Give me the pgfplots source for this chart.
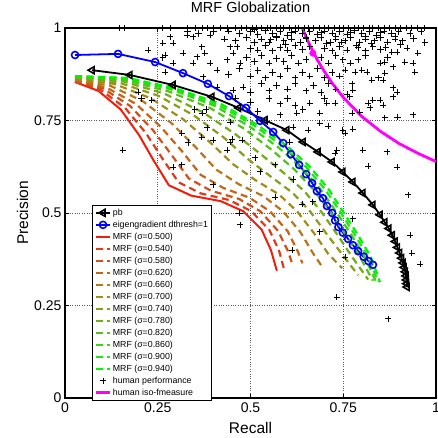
\documentclass[border=0pt]{standalone}
\usepackage{fontspec}
\setmainfont{Liberation Sans}
\usepackage{pgfplots}
\pgfplotsset{compat=1.18}
\definecolor{c50}{RGB}{240,30,10}
\definecolor{c54}{RGB}{222,58,25}
\definecolor{c58}{RGB}{208,80,25}
\definecolor{c62}{RGB}{196,102,25}
\definecolor{c66}{RGB}{180,120,25}
\definecolor{c70}{RGB}{160,140,25}
\definecolor{c74}{RGB}{140,155,25}
\definecolor{c78}{RGB}{115,172,25}
\definecolor{c82}{RGB}{85,192,25}
\definecolor{c86}{RGB}{55,212,20}
\definecolor{c90}{RGB}{30,230,20}
\definecolor{c94}{RGB}{0,245,0}
\definecolor{mag}{RGB}{255,0,255}
\definecolor{bl}{RGB}{0,0,255}
\begin{document}
\begin{tikzpicture}
\begin{axis}[
  name=ax, scale only axis, width=371pt, height=370pt,
  xmin=0, xmax=1, ymin=0, ymax=1, clip=false,
  xtick={0,0.25,0.5,0.75,1}, ytick={0,0.25,0.5,0.75,1},
  xticklabels={0,0.25,0.5,0.75,1}, yticklabels={0,0.25,0.5,0.75,1},
  /pgf/number format/assume math mode=true,
  tick align=inside, major tick length=4pt,
  tick style={black, line width=0.6pt},
  grid=major, major grid style={dotted, black!65, line width=0.6pt},
  axis line style={line width=1.2pt},
  ticklabel style={font=\fontsize{14}{16}\selectfont},
  xticklabel style={yshift=-1.5pt},
  title={MRF Globalization},
  title style={font=\fontsize{14.5}{17}\selectfont, at={(axis description cs:0.5,1)}, anchor=base, yshift=9.7pt, inner sep=0pt},
  xlabel={Recall},
  xlabel style={font=\fontsize{15.5}{18}\selectfont, at={(axis description cs:0.5,0)}, anchor=base, yshift=-35pt, inner sep=0pt},
  ylabel={Precision},
  ylabel style={font=\fontsize{15.5}{18}\selectfont, at={(axis description cs:-0.0997,0.5)}, anchor=base, inner sep=0pt},
  legend image code/.code={\draw[mark repeat=2,mark phase=2,#1] plot coordinates {(0pt,0pt) (7pt,0pt) (14pt,0pt)};},
  legend cell align=left,
  legend style={at={(axis description cs:0.073,0.522)}, anchor=north west, draw=black, line width=1pt, fill=white,
    font=\fontsize{8.8}{10}\selectfont, inner xsep=2pt, inner ysep=1.5pt, row sep=0pt,
    nodes={inner ysep=1.75pt, inner xsep=1.5pt, text height=6.4pt, text depth=2.1pt}},
]
% pb
\addplot[black, line width=1.8pt, mark=triangle, mark size=4pt, mark options={rotate=90, solid, line width=1.6pt}] coordinates {
(0.073,0.886)(0.175,0.873)(0.291,0.846)(0.396,0.814)(0.468,0.784)(0.539,0.751)(0.598,0.724)(0.642,0.692)(0.682,0.665)(0.720,0.638)(0.749,0.611)(0.776,0.584)(0.803,0.554)(0.830,0.522)(0.849,0.495)(0.862,0.475)(0.873,0.458)(0.882,0.440)(0.890,0.423)(0.896,0.407)(0.902,0.392)(0.907,0.378)(0.911,0.365)(0.914,0.353)(0.917,0.341)(0.919,0.330)(0.920,0.319)(0.921,0.309)(0.922,0.300)};
\addlegendentry{pb}
% eigengradient
\addplot[bl, line width=1.8pt, mark=o, mark size=3.5pt, mark options={solid, line width=1.6pt}] coordinates {
(0.027,0.927)(0.143,0.930)(0.243,0.908)(0.318,0.878)(0.385,0.849)(0.442,0.816)(0.488,0.784)(0.526,0.749)(0.561,0.719)(0.588,0.689)(0.609,0.659)(0.631,0.630)(0.650,0.605)(0.666,0.581)(0.679,0.559)(0.695,0.540)(0.706,0.519)(0.720,0.500)(0.728,0.480)(0.737,0.462)(0.749,0.447)(0.763,0.430)(0.776,0.413)(0.790,0.397)(0.805,0.382)(0.818,0.370)(0.830,0.360)};
\addlegendentry{eigengradient dthresh=1}
% MRF curves
\addplot[c50, line width=2pt] coordinates {
(0.027,0.854)(0.09,0.830)(0.15,0.780)(0.20,0.710)(0.24,0.640)(0.28,0.575)(0.34,0.547)(0.42,0.532)(0.48,0.505)(0.53,0.455)(0.555,0.400)(0.571,0.344)};
\addlegendentry{MRF (σ=0.500)}
\addplot[c54, line width=2.2pt, dash pattern=on 7pt off 4.5pt] coordinates {
(0.027,0.855)(0.096,0.833)(0.162,0.784)(0.218,0.716)(0.262,0.648)(0.306,0.583)(0.366,0.553)(0.443,0.535)(0.502,0.505)(0.551,0.454)(0.577,0.398)(0.590,0.350)};
\addlegendentry{MRF (σ=0.540)}
\addplot[c58, line width=2.2pt, dash pattern=on 7pt off 4.5pt] coordinates {
(0.027,0.857)(0.104,0.836)(0.176,0.789)(0.237,0.724)(0.288,0.656)(0.334,0.593)(0.394,0.560)(0.469,0.538)(0.526,0.505)(0.574,0.452)(0.601,0.397)(0.614,0.358)};
\addlegendentry{MRF (σ=0.580)}
\addplot[c62, line width=2.2pt, dash pattern=on 7pt off 4.5pt] coordinates {
(0.027,0.858)(0.112,0.839)(0.191,0.795)(0.259,0.732)(0.316,0.666)(0.366,0.603)(0.426,0.568)(0.498,0.541)(0.553,0.504)(0.600,0.451)(0.628,0.395)(0.640,0.364)};
\addlegendentry{MRF (σ=0.620)}
\addplot[c66, line width=2.2pt, dash pattern=on 7pt off 4.5pt] coordinates {
(0.027,0.860)(0.122,0.844)(0.210,0.802)(0.288,0.742)(0.352,0.678)(0.408,0.617)(0.468,0.578)(0.536,0.545)(0.588,0.504)(0.634,0.449)(0.668,0.392)(0.693,0.355)};
\addlegendentry{MRF (σ=0.660)}
\addplot[c70, line width=2.2pt, dash pattern=on 7pt off 4.5pt] coordinates {
(0.027,0.863)(0.133,0.849)(0.231,0.810)(0.319,0.753)(0.391,0.691)(0.453,0.632)(0.513,0.589)(0.577,0.550)(0.626,0.504)(0.670,0.447)(0.710,0.389)(0.747,0.351)};
\addlegendentry{MRF (σ=0.700)}
\addplot[c74, line width=2.2pt, dash pattern=on 7pt off 4.5pt] coordinates {
(0.027,0.865)(0.144,0.853)(0.251,0.817)(0.347,0.764)(0.428,0.704)(0.494,0.645)(0.554,0.599)(0.614,0.554)(0.661,0.504)(0.704,0.445)(0.748,0.387)(0.790,0.332)};
\addlegendentry{MRF (σ=0.740)}
\addplot[c78, line width=2.2pt, dash pattern=on 7pt off 4.5pt] coordinates {
(0.027,0.866)(0.152,0.857)(0.267,0.823)(0.372,0.772)(0.458,0.714)(0.530,0.657)(0.590,0.608)(0.646,0.558)(0.691,0.503)(0.733,0.443)(0.772,0.384)(0.817,0.320)};
\addlegendentry{MRF (σ=0.780)}
\addplot[c82, line width=2.2pt, dash pattern=on 7pt off 4.5pt] coordinates {
(0.027,0.868)(0.160,0.860)(0.281,0.828)(0.391,0.784)(0.484,0.727)(0.558,0.670)(0.618,0.618)(0.672,0.561)(0.715,0.503)(0.756,0.442)(0.794,0.383)(0.830,0.317)};
\addlegendentry{MRF (σ=0.820)}
\addplot[c86, line width=2.2pt, dash pattern=on 7pt off 4.5pt] coordinates {
(0.027,0.869)(0.164,0.863)(0.290,0.833)(0.405,0.789)(0.500,0.732)(0.578,0.675)(0.638,0.621)(0.690,0.563)(0.731,0.503)(0.772,0.441)(0.808,0.381)(0.838,0.315)};
\addlegendentry{MRF (σ=0.860)}
\addplot[c90, line width=2.2pt, dash pattern=on 7pt off 4.5pt] coordinates {
(0.027,0.870)(0.168,0.864)(0.296,0.835)(0.413,0.792)(0.512,0.735)(0.590,0.678)(0.650,0.624)(0.701,0.564)(0.742,0.503)(0.782,0.440)(0.817,0.381)(0.844,0.314)};
\addlegendentry{MRF (σ=0.900)}
\addplot[c94, line width=2.2pt, dash pattern=on 7pt off 4.5pt] coordinates {
(0.027,0.870)(0.170,0.865)(0.300,0.836)(0.420,0.795)(0.520,0.737)(0.600,0.680)(0.660,0.625)(0.710,0.565)(0.750,0.503)(0.790,0.440)(0.825,0.380)(0.849,0.313)};
\addlegendentry{MRF (σ=0.940)}
% human performance
\addplot[only marks, black, mark=+, mark size=3.3pt, mark options={line width=0.9pt}] coordinates {
(0.148,1)(0.160,1)(0.264,1)(0.283,1)(0.329,1)(0.352,1)(0.370,1)(0.384,1)(0.400,1)(0.420,1)(0.437,1)(0.460,1)(0.475,1)(0.490,1)(0.505,1)(0.515,1)(0.530,1)(0.545,1)(0.555,1)(0.570,1)(0.580,1)(0.590,1)(0.605,1)(0.620,1)(0.630,1)(0.645,1)(0.655,1)(0.670,1)(0.685,1)(0.700,1)(0.710,1)(0.725,1)(0.740,1)(0.750,1)(0.765,1)(0.780,1)(0.790,1)(0.805,1)(0.820,1)(0.830,1)(0.845,1)(0.860,1)(0.875,1)(0.890,1)(0.905,1)(0.920,1)(0.935,1)(0.950,1)(0.970,1)
(0.33,0.99)(0.36,0.985)(0.40,0.99)(0.44,0.992)(0.47,0.985)(0.50,0.99)(0.52,0.982)(0.54,0.993)(0.56,0.985)(0.58,0.99)(0.60,0.98)(0.62,0.992)(0.64,0.985)(0.66,0.99)(0.68,0.982)(0.70,0.992)(0.72,0.986)(0.74,0.99)(0.76,0.982)(0.78,0.993)(0.80,0.985)(0.82,0.99)(0.84,0.98)(0.86,0.992)(0.88,0.985)(0.90,0.99)(0.93,0.985)(0.96,0.99)
(0.51,0.995)(0.57,0.978)(0.61,0.988)(0.65,0.975)(0.69,0.987)(0.73,0.978)(0.77,0.988)(0.81,0.977)(0.85,0.988)(0.89,0.978)(0.555,0.968)(0.595,0.955)(0.705,0.958)(0.745,0.962)(0.785,0.952)(0.825,0.958)(0.865,0.948)(0.905,0.955)
(0.291,0.959)(0.283,0.976)(0.329,0.981)(0.345,0.976)(0.391,0.981)(0.43,0.97)(0.46,0.965)(0.49,0.975)(0.51,0.96)(0.53,0.97)(0.55,0.962)(0.57,0.975)(0.59,0.965)(0.61,0.97)(0.635,0.96)(0.65,0.972)(0.675,0.965)(0.69,0.975)(0.715,0.96)(0.73,0.97)(0.755,0.965)(0.77,0.975)(0.795,0.96)(0.81,0.97)(0.835,0.965)(0.85,0.975)(0.87,0.962)(0.89,0.97)(0.91,0.965)(0.94,0.972)(0.97,0.96)
(0.224,0.94)(0.264,0.959)(0.369,0.949)(0.445,0.949)(0.464,0.949)(0.50,0.945)(0.52,0.94)(0.54,0.952)(0.56,0.938)(0.58,0.948)(0.60,0.94)(0.62,0.952)(0.64,0.942)(0.66,0.95)(0.70,0.945)(0.72,0.938)(0.74,0.95)(0.76,0.94)(0.79,0.948)(0.81,0.938)(0.83,0.95)(0.85,0.942)(0.881,0.935)(0.895,0.935)(0.922,0.946)(0.951,0.932)
(0.264,0.92)(0.27,0.927)(0.318,0.932)(0.377,0.932)(0.356,0.922)(0.453,0.932)(0.437,0.914)(0.291,0.905)(0.345,0.905)(0.391,0.905)(0.472,0.905)(0.49,0.92)(0.51,0.91)(0.53,0.925)(0.55,0.905)(0.57,0.918)(0.59,0.91)(0.61,0.925)(0.63,0.905)(0.65,0.915)(0.69,0.92)(0.71,0.905)(0.73,0.925)(0.749,0.914)(0.79,0.914)(0.77,0.905)(0.81,0.925)(0.849,0.905)(0.862,0.908)(0.916,0.908)(0.938,0.905)(0.87,0.92)
(0.27,0.881)(0.41,0.886)(0.372,0.868)(0.44,0.875)(0.47,0.89)(0.50,0.87)(0.52,0.885)(0.54,0.865)(0.56,0.88)(0.58,0.87)(0.60,0.89)(0.62,0.865)(0.64,0.88)(0.66,0.87)(0.68,0.89)(0.70,0.865)(0.72,0.88)(0.755,0.886)(0.782,0.881)(0.80,0.886)(0.814,0.881)(0.827,0.859)(0.845,0.865)(0.857,0.859)(0.862,0.878)(0.884,0.895)(0.943,0.881)(0.74,0.87)
(0.41,0.84)(0.453,0.832)(0.48,0.84)(0.50,0.825)(0.53,0.85)(0.55,0.83)(0.57,0.845)(0.60,0.835)(0.62,0.85)(0.65,0.83)(0.67,0.845)(0.69,0.825)(0.71,0.85)(0.73,0.835)(0.774,0.849)(0.776,0.832)(0.884,0.838)(0.895,0.827)(0.76,0.82)
(0.197,0.827)(0.207,0.81)(0.234,0.805)(0.46,0.81)(0.50,0.80)(0.55,0.81)(0.58,0.795)(0.60,0.81)(0.641,0.78)(0.66,0.797)(0.706,0.797)(0.728,0.797)(0.768,0.814)(0.817,0.797)(0.822,0.784)(0.849,0.805)(0.830,0.805)(0.857,0.792)(0.884,0.814)(0.70,0.81)(0.62,0.79)
(0.35,0.78)(0.37,0.77)(0.38,0.78)(0.445,0.746)(0.625,0.77)(0.687,0.77)(0.774,0.77)(0.795,0.773)(0.862,0.757)(0.897,0.759)(0.938,0.765)(0.687,0.743)(0.58,0.765)(0.52,0.775)
(0.383,0.73)(0.315,0.716)(0.332,0.69)(0.369,0.705)(0.399,0.697)(0.445,0.692)(0.45,0.70)(0.477,0.697)(0.615,0.732)(0.655,0.724)(0.709,0.735)(0.749,0.724)(0.755,0.716)(0.776,0.727)(0.606,0.692)
(0.156,0.67)(0.437,0.67)(0.291,0.624)(0.315,0.63)(0.512,0.649)(0.566,0.63)(0.526,0.611)(0.615,0.59)(0.733,0.67)(0.728,0.662)(0.803,0.67)(0.868,0.665)(0.817,0.627)(0.895,0.624)
(0.399,0.576)(0.566,0.543)(0.47,0.5)(0.925,0.549)(0.639,0.524)(0.668,0.53)(0.472,0.468)(0.612,0.4)(0.687,0.449)(0.776,0.484)(0.755,0.381)(0.733,0.273)(0.93,0.44)(0.935,0.392)(0.957,0.362)(0.871,0.214)};
\addlegendentry{human performance}
% iso-F
\addplot[mag, line width=2.8pt] coordinates {
(0.64,0.998)(0.66,0.953)(0.68,0.914)(0.70,0.881)(0.72,0.851)(0.75,0.8125)(0.80,0.761)(0.85,0.721)(0.90,0.688)(0.95,0.662)(1.0,0.639)};
\addlegendentry{human iso-fmeasure}
\addplot[only marks, mag, mark=*, mark size=3.2pt, forget plot] coordinates {(0.668,0.932)};
\end{axis}
\pgfresetboundingbox
\path[use as bounding box] ([xshift=-65pt,yshift=-40pt]ax.south west) rectangle ([xshift=1pt,yshift=28pt]ax.north east);
\end{tikzpicture}
\end{document}
